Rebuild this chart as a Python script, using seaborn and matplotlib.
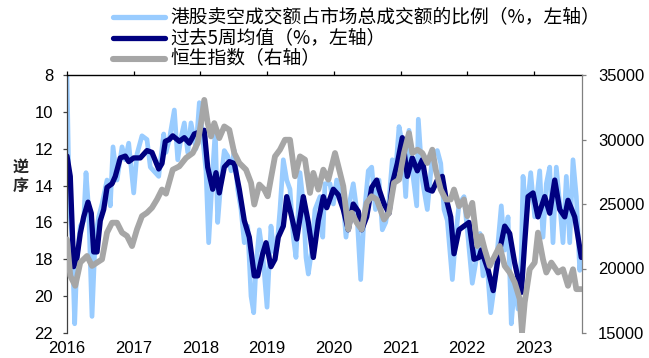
import matplotlib
matplotlib.use("Agg")
import matplotlib.pyplot as plt
from matplotlib.lines import Line2D
import seaborn as sns

# Weekly HK short-selling turnover ratio (%), time as decimal years
short_t = [2016.000, 2016.034, 2016.075, 2016.115, 2016.150, 2016.199, 2016.250, 2016.285,
           2016.325, 2016.375, 2016.424, 2016.475, 2016.525, 2016.600, 2016.649, 2016.690,
           2016.750, 2016.825, 2016.874, 2016.925, 2017.000, 2017.049, 2017.124, 2017.199,
           2017.249, 2017.324, 2017.375, 2017.450, 2017.484, 2017.534, 2017.609, 2017.660,
           2017.709, 2017.759, 2017.810, 2017.859, 2017.934, 2017.984, 2018.034, 2018.084,
           2018.124, 2018.184, 2018.223, 2018.259, 2018.309, 2018.358, 2018.409, 2018.459,
           2018.508, 2018.559, 2018.609, 2018.658, 2018.709, 2018.759, 2018.799, 2018.834,
           2018.883, 2018.939, 2018.999, 2019.058, 2019.103, 2019.148, 2019.193, 2019.243,
           2019.294, 2019.343, 2019.393, 2019.433, 2019.493, 2019.543, 2019.583, 2019.618,
           2019.669, 2019.718, 2019.793, 2019.834, 2019.868, 2019.943, 2019.993, 2020.043,
           2020.093, 2020.142, 2020.183, 2020.243, 2020.292, 2020.343, 2020.403, 2020.453,
           2020.517, 2020.568, 2020.625, 2020.678, 2020.727, 2020.778, 2020.828, 2020.877,
           2020.928, 2020.978, 2021.027, 2021.078, 2021.127, 2021.177, 2021.243, 2021.267,
           2021.327, 2021.402, 2021.477, 2021.552, 2021.603, 2021.652, 2021.702, 2021.777,
           2021.828, 2021.877, 2021.952, 2022.012, 2022.076, 2022.127, 2022.192, 2022.237,
           2022.286, 2022.352, 2022.412, 2022.462, 2022.511, 2022.562, 2022.612, 2022.661,
           2022.712, 2022.762, 2022.811, 2022.837, 2022.886, 2022.952, 2023.012, 2023.087,
           2023.136, 2023.186, 2023.237, 2023.286, 2023.336, 2023.387, 2023.436, 2023.486,
           2023.537, 2023.586, 2023.636, 2023.687, 2023.721]
short_ratio = [8.1, 15.0, 16.8, 21.5, 17.9, 16.2, 15.9, 13.3,
               15.3, 21.1, 16.8, 15.7, 15.0, 13.7, 15.1, 11.9,
               13.7, 11.9, 12.6, 11.7, 14.4, 12.3, 11.3, 11.5,
               13.0, 13.3, 13.5, 11.2, 12.2, 11.5, 9.9, 12.6,
               11.4, 10.6, 12.2, 10.6, 12.0, 9.5, 11.4, 13.2,
               17.1, 13.2, 11.0, 16.0, 13.7, 12.1, 12.4, 13.2,
               12.1, 14.2, 15.3, 17.1, 16.2, 20.0, 20.9, 18.4,
               16.4, 17.9, 20.6, 16.2, 17.6, 17.3, 15.3, 12.6,
               13.7, 14.2, 16.8, 17.9, 13.3, 15.0, 17.9, 18.8,
               17.5, 15.3, 14.6, 16.8, 13.9, 13.9, 15.0, 13.7,
               14.4, 15.0, 16.8, 14.8, 13.9, 15.3, 19.1, 15.7,
               13.2, 13.0, 15.3, 13.7, 16.4, 16.0, 14.8, 12.6,
               13.2, 10.8, 11.7, 14.6, 11.0, 13.2, 15.1, 10.4,
               13.7, 15.3, 12.4, 12.1, 12.8, 15.3, 15.9, 19.1,
               16.8, 15.0, 14.6, 16.8, 19.3, 18.2, 16.6, 18.9,
               17.7, 20.9, 19.3, 17.1, 15.1, 17.5, 15.7, 21.5,
               19.3, 20.7, 17.9, 13.5, 15.7, 13.3, 15.7, 13.2,
               16.8, 13.9, 13.0, 17.1, 13.0, 15.0, 17.1, 13.5,
               17.1, 12.6, 14.6, 18.6, 17.5]

# 5-week moving average of the ratio (%)
ma_t = [2016.000, 2016.049, 2016.100, 2016.150, 2016.199, 2016.250, 2016.315, 2016.364,
        2016.400, 2016.450, 2016.499, 2016.550, 2016.600, 2016.675, 2016.724, 2016.799,
        2016.874, 2016.925, 2017.000, 2017.099, 2017.199, 2017.274, 2017.375, 2017.424,
        2017.474, 2017.534, 2017.585, 2017.684, 2017.759, 2017.834, 2017.909, 2017.984,
        2018.058, 2018.109, 2018.184, 2018.234, 2018.283, 2018.358, 2018.433, 2018.508,
        2018.583, 2018.658, 2018.733, 2018.808, 2018.859, 2018.934, 2018.984, 2019.058,
        2019.118, 2019.168, 2019.243, 2019.294, 2019.369, 2019.444, 2019.543, 2019.618,
        2019.693, 2019.768, 2019.843, 2019.894, 2019.993, 2020.067, 2020.142, 2020.217,
        2020.292, 2020.367, 2020.418, 2020.493, 2020.568, 2020.643, 2020.678, 2020.753,
        2020.828, 2020.877, 2020.952, 2021.027, 2021.102, 2021.177, 2021.252, 2021.327,
        2021.402, 2021.477, 2021.552, 2021.627, 2021.678, 2021.753, 2021.802, 2021.877,
        2021.952, 2022.027, 2022.102, 2022.177, 2022.211, 2022.315, 2022.390, 2022.465,
        2022.562, 2022.637, 2022.712, 2022.811, 2022.862, 2022.912, 2022.987, 2023.061,
        2023.162, 2023.237, 2023.312, 2023.387, 2023.462, 2023.511, 2023.612, 2023.711]
ma_ratio = [12.4, 13.5, 18.4, 17.9, 16.6, 15.7, 14.9, 15.5,
            17.6, 17.6, 15.9, 15.3, 14.1, 13.9, 13.5, 12.5,
            12.4, 12.7, 12.5, 12.5, 12.1, 12.2, 13.1, 12.8,
            11.6, 11.5, 11.3, 11.6, 11.4, 11.7, 11.2, 11.1,
            11.0, 13.0, 14.2, 13.3, 14.4, 13.0, 12.7, 12.8,
            14.2, 15.9, 16.8, 18.9, 18.9, 17.7, 17.1, 18.4,
            18.0, 16.8, 16.2, 14.6, 15.7, 16.9, 14.6, 16.0,
            17.9, 15.9, 14.6, 15.2, 14.2, 14.5, 15.3, 16.4,
            15.0, 15.4, 16.4, 15.7, 14.1, 13.7, 14.2, 15.0,
            15.5, 13.9, 12.8, 11.4, 13.5, 12.5, 13.2, 12.6,
            14.2, 14.3, 13.7, 13.5, 14.6, 15.7, 17.7, 16.4,
            16.2, 16.0, 18.0, 17.9, 17.5, 18.6, 19.7, 17.9,
            16.2, 16.6, 18.2, 19.8, 17.1, 14.6, 14.4, 15.7,
            14.6, 15.5, 13.7, 15.3, 15.7, 14.8, 15.7, 17.9]

# Hang Seng Index close
hsi_t = [2016.000, 2016.049, 2016.124, 2016.199, 2016.300, 2016.375, 2016.450, 2016.525,
         2016.600, 2016.675, 2016.750, 2016.825, 2016.900, 2016.975, 2017.049, 2017.124,
         2017.199, 2017.274, 2017.349, 2017.424, 2017.484, 2017.585, 2017.684, 2017.784,
         2017.885, 2017.960, 2018.009, 2018.058, 2018.109, 2018.159, 2018.208, 2018.283,
         2018.358, 2018.433, 2018.508, 2018.583, 2018.684, 2018.759, 2018.808, 2018.883,
         2018.958, 2019.009, 2019.058, 2019.118, 2019.193, 2019.268, 2019.343, 2019.418,
         2019.493, 2019.568, 2019.643, 2019.693, 2019.768, 2019.843, 2019.918, 2020.018,
         2020.093, 2020.142, 2020.217, 2020.268, 2020.343, 2020.418, 2020.493, 2020.568,
         2020.643, 2020.753, 2020.828, 2020.903, 2020.978, 2021.052, 2021.127, 2021.177,
         2021.252, 2021.327, 2021.402, 2021.477, 2021.528, 2021.603, 2021.678, 2021.753,
         2021.802, 2021.877, 2021.952, 2022.001, 2022.076, 2022.151, 2022.211, 2022.262,
         2022.337, 2022.412, 2022.487, 2022.562, 2022.637, 2022.712, 2022.787, 2022.822,
         2022.862, 2022.937, 2023.012, 2023.061, 2023.136, 2023.186, 2023.261, 2023.361,
         2023.436, 2023.511, 2023.586, 2023.636, 2023.711]
hsi_close = [22260, 19430, 18660, 20460, 20970, 20200, 20460, 20710,
             22780, 23550, 23550, 22780, 22520, 21740, 23030, 24060,
             24320, 24710, 25350, 26120, 25800, 27660, 27920, 28570,
             28950, 29730, 31270, 33070, 31270, 30240, 31270, 30110,
             31010, 30750, 28950, 28180, 27660, 26640, 24960, 26510,
             26120, 25600, 27000, 28690, 29210, 29980, 29980, 27150,
             28690, 28440, 25860, 27410, 26120, 27660, 26890, 28950,
             27410, 26380, 23030, 24320, 23550, 23030, 25090, 25600,
             25350, 23800, 24320, 26640, 26890, 28950, 30500, 28950,
             29210, 28950, 28180, 29210, 27660, 26120, 25350, 25350,
             26120, 24830, 25350, 24060, 25090, 21740, 22520, 21490,
             20200, 20970, 21740, 20200, 19690, 18920, 17630, 15050,
             17370, 19940, 20460, 22780, 20710, 19690, 20460, 19690,
             19940, 18660, 19940, 18400, 18400]

year_ticks = [2016, 2017, 2018, 2019, 2020, 2021, 2022, 2023]
ratio_ticks = [8, 10, 12, 14, 16, 18, 20, 22]
hsi_ticks = [15000, 20000, 25000, 30000, 35000]

labels = ["港股卖空成交额占市场总成交额的比例（%，左轴）",
          "过去5周均值（%，左轴）",
          "恒生指数（右轴）"]
colors = ["#99CCFF", "#000080", "#A6A6A6"]

sns.set_theme(style="white")
plt.rcParams["font.family"] = ["Liberation Sans", "Noto Sans CJK SC", "DejaVu Sans"]

W, H = 649, 358
fig = plt.figure(figsize=(W / 100, H / 100), dpi=100)
ax = fig.add_axes([67 / W, 1 - 333 / H, (582 - 67) / W, (333 - 75) / H])

sns.lineplot(x=short_t, y=short_ratio, ax=ax, color=colors[0], linewidth=3.4,
             estimator=None, sort=False, legend=False)
sns.lineplot(x=ma_t, y=ma_ratio, ax=ax, color=colors[1], linewidth=3.8,
             estimator=None, sort=False, legend=False)

ax2 = ax.twinx()
sns.lineplot(x=hsi_t, y=hsi_close, ax=ax2, color=colors[2], linewidth=4.2,
             estimator=None, sort=False, legend=False)

# left axis: ratio, inverted
ax.set_xlim(2016, 2023.721)
ax.set_ylim(22, 8)
ax.set_yticks(ratio_ticks)
ax.set_yticklabels([str(v) for v in ratio_ticks])
ax.set_xticks(year_ticks)
ax.set_xticklabels([str(y) for y in year_ticks])
ax.set_xlabel("")
ax.set_ylabel("")

# right axis: index level
ax2.set_ylim(15000, 35000)
ax2.set_yticks(hsi_ticks)
ax2.set_yticklabels([str(v) for v in hsi_ticks])
ax2.set_ylabel("")

for a in (ax, ax2):
    for s in a.spines.values():
        s.set_visible(False)
    a.grid(False)
ax.spines["top"].set_visible(True)
ax.spines["top"].set_color("black")
ax.spines["top"].set_linewidth(1.0)
ax.spines["left"].set_visible(True)
ax.spines["left"].set_color("#404040")
ax.spines["left"].set_linewidth(0.9)
ax2.spines["right"].set_visible(True)
ax2.spines["right"].set_color("#808080")
ax2.spines["right"].set_linewidth(0.9)

ax.tick_params(axis="x", which="both", top=True, bottom=False, labeltop=False,
               labelbottom=True, direction="out", length=3, width=0.9,
               color="black", pad=2.5, labelsize=12, labelcolor="black")
ax.tick_params(axis="y", left=True, right=False, direction="out", length=3,
               width=0.9, color="#404040", pad=7, labelsize=12, labelcolor="black")
ax2.tick_params(axis="y", left=False, right=True, direction="out", length=3,
                width=0.9, color="#808080", pad=8.5, labelsize=12, labelcolor="black")

# "reverse order" note for the left axis
fig.text(21 / W, 1 - 176 / H, "逆\n序", ha="center", va="center", fontsize=11.5,
         fontweight="bold", family=["Noto Sans CJK SC", "DejaVu Sans"],
         linespacing=1.25)

# legend rows
rows_y = [17, 38, 59]
for lab, col, yy, lw in zip(labels, colors, rows_y, [3.8, 3.8, 4.4]):
    fig.add_artist(Line2D([113 / W, 165 / W], [1 - yy / H, 1 - yy / H],
                          transform=fig.transFigure, color=col, linewidth=lw,
                          solid_capstyle="round"))
    fig.text(170 / W, 1 - yy / H, lab, ha="left", va="center", fontsize=13.5,
             family=["Noto Sans CJK SC", "DejaVu Sans"], color="black")

fig.savefig("out.png", dpi=100)
